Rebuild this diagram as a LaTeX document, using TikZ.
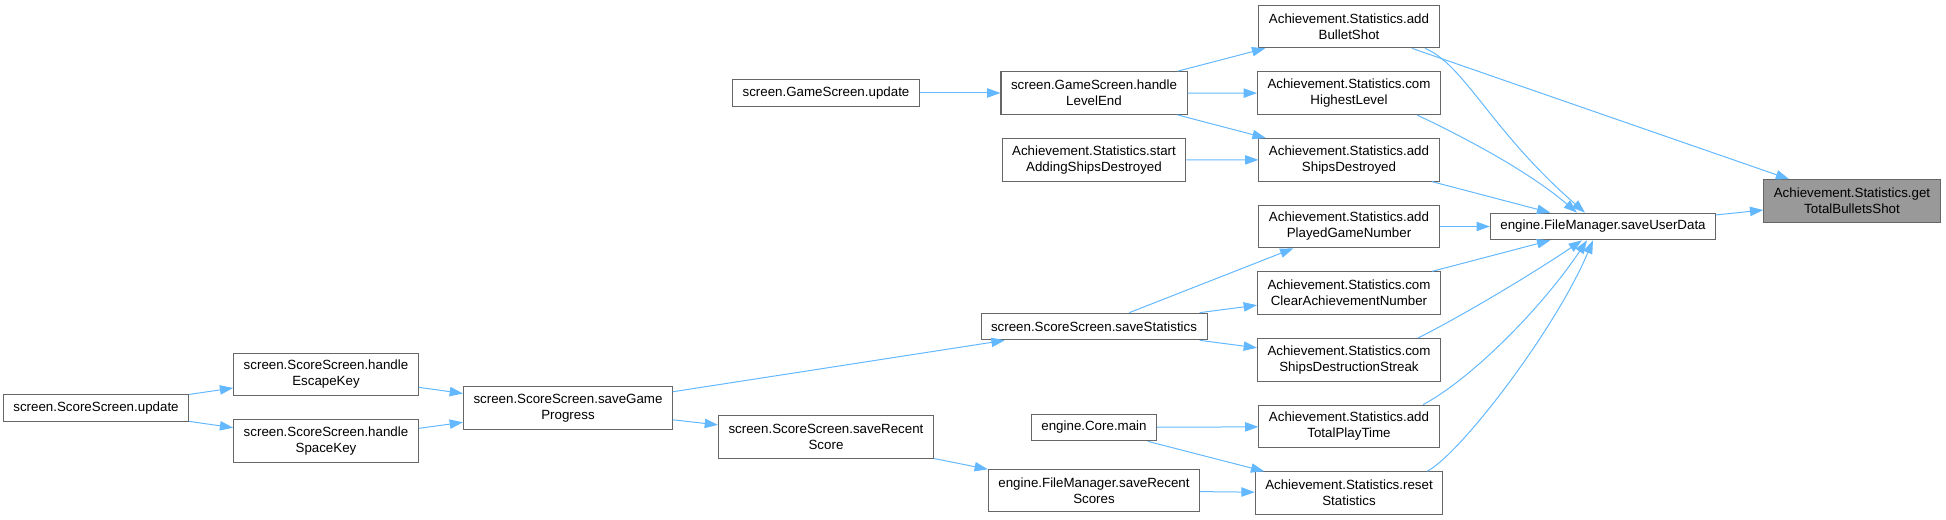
\documentclass[tikz,border=0pt]{standalone}
\usepackage{fontspec}
\setmainfont{Liberation Sans}
\usepackage{tikz}
\usetikzlibrary{arrows.meta, positioning, calc}
\definecolor{edgeblue}{RGB}{99, 184, 255}
\definecolor{boxgray}{RGB}{102, 102, 102}
\definecolor{focusgray}{RGB}{153, 153, 153}

\begin{document}
\begin{tikzpicture}[
  x=0.75pt, y=-0.75pt,
  node distance=17.25pt,
  fn/.style={draw=boxgray, fill=white, line width=0.75pt, font=\fontsize{10}{12}\selectfont,
    align=center, inner xsep=7.5pt, inner ysep=0pt, minimum height=20pt},
  fntwo/.style={fn, minimum height=32pt},
  focus/.style={fntwo, fill=focusgray},
  call/.style={-{Triangle[length=10pt,width=7pt]}, draw=edgeblue, line width=0.75pt}
]
\useasboundingbox (0,0) rectangle (1946,520);

% Selected function
\node[focus] (gtbs) at (1852,201) {Achievement.Statistics.get\\TotalBulletsShot};
\node[fn] (sud) at (1603,226.5) {engine.FileManager.saveUserData};

% Statistics column
\node[fntwo] (abs) at (1349,26.5) {Achievement.Statistics.add\\BulletShot};
\node[fntwo, below=of abs] (chl) {Achievement.Statistics.com\\HighestLevel};
\node[fntwo, below=of chl] (asd) {Achievement.Statistics.add\\ShipsDestroyed};
\node[fntwo, below=of asd] (apg) {Achievement.Statistics.add\\PlayedGameNumber};
\node[fntwo, below=of apg] (ccan) {Achievement.Statistics.com\\ClearAchievementNumber};
\node[fntwo, below=of ccan] (csds) {Achievement.Statistics.com\\ShipsDestructionStreak};
\node[fntwo, below=of csds] (atpt) {Achievement.Statistics.add\\TotalPlayTime};
\node[fntwo, below=of atpt] (rst) {Achievement.Statistics.reset\\Statistics};

% Callers of the statistics
\node[fntwo] (hle) at (1094,93) {screen.GameScreen.handle\\LevelEnd};
\node[fntwo] (sasd) at (1094,160) {Achievement.Statistics.start\\AddingShipsDestroyed};
\node[fn] (sst) at (1094,326.5) {screen.ScoreScreen.saveStatistics};
\node[fn] (cmain) at (1094,427.5) {engine.Core.main};
\node[fntwo] (fmsrs) at (1094,490.5) {engine.FileManager.saveRecent\\Scores};

% Screens
\node[fn] (gsu) at (826,93) {screen.GameScreen.update};
\node[fntwo] (srs) at (826,437) {screen.ScoreScreen.saveRecent\\Score};
\node[fntwo] (sgp) at (568,408) {screen.ScoreScreen.saveGame\\Progress};
\node[fntwo] (hek) at (326,374.5) {screen.ScoreScreen.handle\\EscapeKey};
\node[fntwo] (hsk) at (326,441) {screen.ScoreScreen.handle\\SpaceKey};
\node[fn] (ssu) at (96,408) {screen.ScoreScreen.update};

% Calls into getTotalBulletsShot
\draw[call] (sud) -- (gtbs);
\draw[call] (abs) -- (gtbs);

% Calls into saveUserData
\draw[call] ($(abs.south)+(76,0)$) .. controls +(40,17) and +(-95,-83) .. ($(sud.north)+(-18,0)$);
\draw[call] ($(chl.south)+(68,0)$) .. controls +(53,25) and +(-47,-40) .. ($(sud.north)+(-26,0)$);
\draw[call] (asd) -- (sud);
\draw[call] (apg) -- (sud);
\draw[call] (ccan) -- (sud);
\draw[call] ($(csds.north)+(69,0)$) .. controls +(42,-21) and +(-52,35) .. ($(sud.south)+(-21,0)$);
\draw[call] ($(atpt.north)+(74,0)$) .. controls +(47,-25) and +(-47,70) .. ($(sud.south)+(-16,0)$);
\draw[call] ($(rst.north)+(78,0)$) .. controls +(33,-17) and +(-38,90) .. ($(sud.south)+(-10,0)$);

% Calls into the statistics
\draw[call] (hle) -- (abs);
\draw[call] (hle) -- (chl);
\draw[call] (hle) -- (asd);
\draw[call] (sasd) -- (asd);
\draw[call] (sst) -- (apg);
\draw[call] (sst) -- (ccan);
\draw[call] (sst) -- (csds);
\draw[call] (cmain) -- (atpt);
\draw[call] (cmain) -- (rst);
\draw[call] (fmsrs) -- (rst);

% Screen calls
\draw[call] (gsu) -- (hle);
\draw[call] (sgp) -- (sst);
\draw[call] (sgp) -- (srs);
\draw[call] (srs) -- (fmsrs);
\draw[call] (hek) -- (sgp);
\draw[call] (hsk) -- (sgp);
\draw[call] (ssu) -- (hek);
\draw[call] (ssu) -- (hsk);

\end{tikzpicture}
\end{document}
